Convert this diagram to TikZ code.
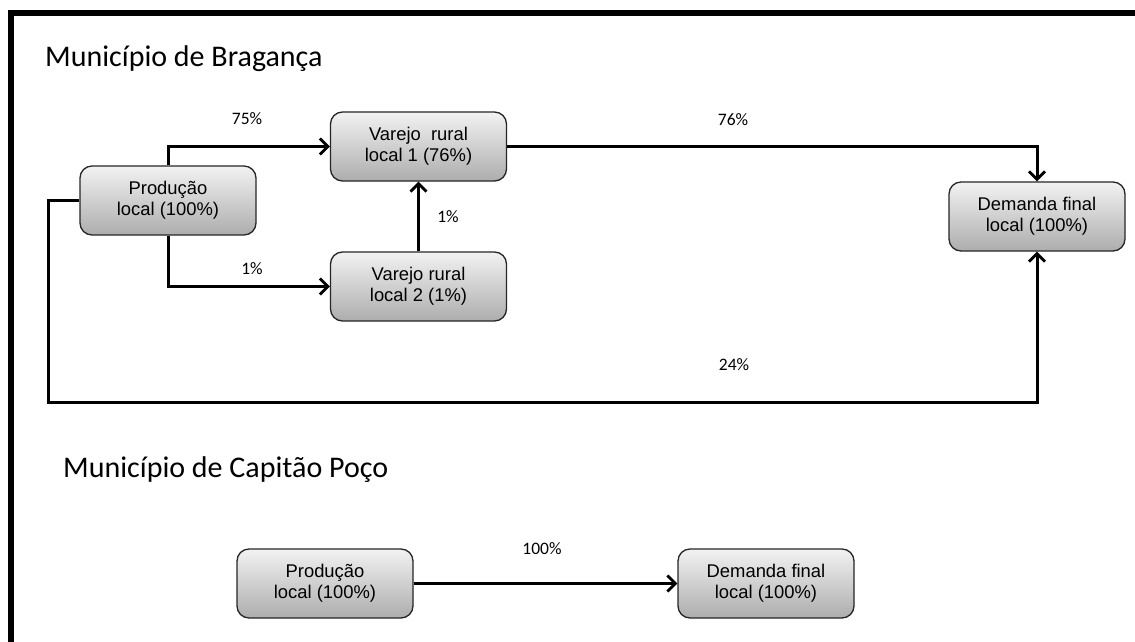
\documentclass[tikz,border=0pt]{standalone}
\usepackage{fontspec}
\setmainfont{Liberation Sans}
\newfontfamily\calibri{Carlito}
\usetikzlibrary{arrows.meta}
\begin{document}
\begin{tikzpicture}[x=1pt,y=-1pt,
  box/.style={draw=black!85, line width=1.3pt, rounded corners=12pt,
    top color=black!5, bottom color=black!32, minimum width=176pt,
    minimum height=69pt, align=center, inner sep=0pt,
    font=\fontsize{18.4}{21}\selectfont},
  flow/.style={line width=3pt, line join=miter,
    -{Straight Barb[length=8pt,width=16pt,line width=2.8pt]}},
  pct/.style={font=\calibri\fontsize{17.5}{20}\selectfont},
  heading/.style={anchor=west, inner sep=0pt, font=\calibri\fontsize{30}{34}\selectfont}]
\useasboundingbox (0,0) rectangle (1135,642);
\fill[white] (0,0) rectangle (1135,642);
% page frame (left and top edges)
\draw[line width=6pt] (11,642) -- (11,13) -- (1139,13);

% ---- Bragança ----
\node[heading] (t1) at (45,59) {Município de Bragança};
\node[box] (p1) at (168,200.5) {Produção\\local (100\%)};
\node[box] (v1) at (418.5,146.5) {Varejo\ \ rural\\local 1 (76\%)};
\node[box] (v2) at (418.5,286.5) {Varejo rural\\local 2 (1\%)};
\node[box] (d1) at (1037,216.5) {Demanda final\\local (100\%)};
\coordinate (loop) at (48,402);

\draw[flow] (p1.north) |- (v1.west);
\draw[flow] (p1.south) |- (v2.west);
\draw[flow] (v2.north) -- (v1.south);
\draw[flow] (v1.east) -| (d1.north);
\draw[flow] (p1.west) -| (loop) -| (d1.south);

\node[pct] (l75) at (247,119) {75\%};
\node[pct] (l1a) at (252,269) {1\%};
\node[pct] (l1b) at (448,217) {1\%};
\node[pct] (l76) at (733,120) {76\%};
\node[pct] (l24) at (734,365) {24\%};

% ---- Capitão Poço ----
\node[heading] (t2) at (63,470) {Município de Capitão Poço};
\node[box] (p2) at (325,583.5) {Produção\\local (100\%)};
\node[box] (d2) at (766,583.5) {Demanda final\\local (100\%)};
\draw[flow] (p2.east) -- (d2.west);
\node[pct] (l100) at (542,549) {100\%};
\end{tikzpicture}
\end{document}
